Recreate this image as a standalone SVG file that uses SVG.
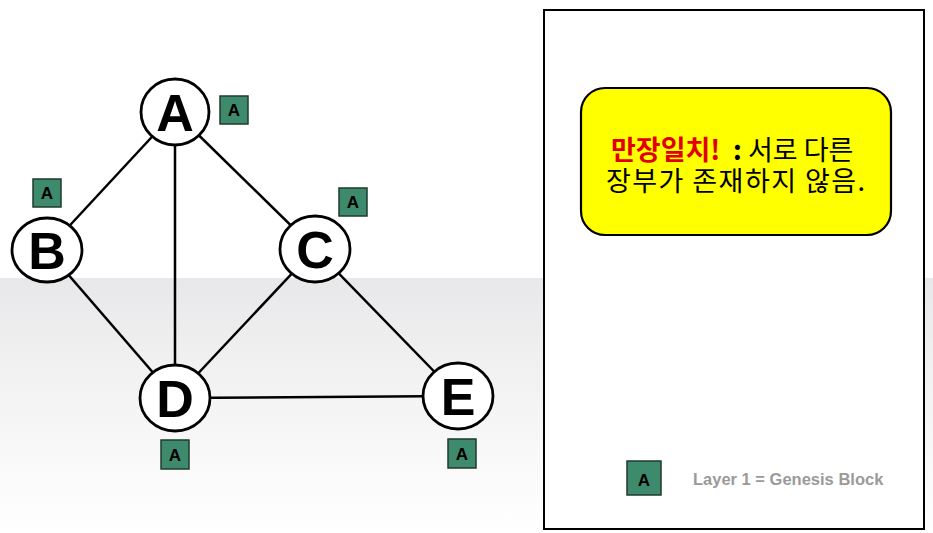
<svg xmlns="http://www.w3.org/2000/svg" width="933" height="533" viewBox="0 0 933 533">
<defs>
<linearGradient id="bg" x1="0" y1="0" x2="0" y2="1">
<stop offset="0" stop-color="#e8e8ea"/>
<stop offset="0.35" stop-color="#f1f1f2"/>
<stop offset="1" stop-color="#ffffff"/>
</linearGradient>
</defs>
<style>
.edge{stroke:#000;stroke-width:2.5;fill:none}
.node{fill:#fff;stroke:#000;stroke-width:2.8}
.nl{font-family:"Liberation Sans",Arial,sans-serif;font-weight:bold;font-size:52px;text-anchor:middle;fill:#000}
.blk{fill:#3d8a6d;stroke:#1f3a2e;stroke-width:1.5}
.bl{font-family:"Liberation Sans",Arial,sans-serif;font-weight:bold;font-size:17px;text-anchor:middle;fill:#000}
.kr{font-family:"Noto Sans CJK KR","Noto Sans",sans-serif;font-size:27px;fill:#000}
</style>
<rect x="0" y="0" width="933" height="533" fill="#fff"/>
<rect x="0" y="278" width="933" height="255" fill="url(#bg)"/>
<g id="connectors">
<line class="edge" x1="175" y1="112" x2="47" y2="250"/>
<line class="edge" x1="175" y1="112" x2="175" y2="398"/>
<line class="edge" x1="175" y1="112" x2="315" y2="249"/>
<line class="edge" x1="47" y1="250" x2="175" y2="398"/>
<line class="edge" x1="315" y1="249" x2="175" y2="398"/>
<line class="edge" x1="315" y1="249" x2="458" y2="396"/>
<line class="edge" x1="175" y1="398" x2="458" y2="396"/>
</g>
<g id="node-A">
<ellipse class="node" cx="175" cy="112" rx="34" ry="33"/>
<text class="nl" x="175" y="131">A</text>
<rect class="blk" x="220" y="96" width="28" height="28"/>
<text class="bl" x="234" y="116">A</text>
</g>
<g id="node-B">
<ellipse class="node" cx="47" cy="250" rx="35" ry="32"/>
<text class="nl" x="47" y="269">B</text>
<rect class="blk" x="33" y="179" width="28" height="28"/>
<text class="bl" x="47" y="199">A</text>
</g>
<g id="node-C">
<ellipse class="node" cx="315" cy="249" rx="35" ry="33"/>
<text class="nl" x="315" y="268">C</text>
<rect class="blk" x="339" y="188" width="28" height="28"/>
<text class="bl" x="353" y="208">A</text>
</g>
<g id="node-D">
<ellipse class="node" cx="175" cy="398" rx="35" ry="33"/>
<text class="nl" x="175" y="417">D</text>
<rect class="blk" x="161" y="440" width="28" height="29"/>
<text class="bl" x="175" y="461">A</text>
</g>
<g id="node-E">
<ellipse class="node" cx="458" cy="396" rx="35" ry="33"/>
<text class="nl" x="458" y="415">E</text>
<rect class="blk" x="448" y="439" width="28" height="29"/>
<text class="bl" x="462" y="460">A</text>
</g>
<g id="panel">
<rect x="544" y="10" width="380" height="519" fill="#fff" stroke="#000" stroke-width="2"/>
<rect x="581" y="88" width="310" height="147" rx="24" ry="24" fill="#ffff00" stroke="#000" stroke-width="2.2"/>
<text class="kr" x="611" y="160" font-weight="bold" style="fill:#e00000">만장일치!</text>
<text class="kr" x="733" y="160" font-weight="bold">:</text>
<text class="kr" x="748" y="160">서로 다른</text>
<text class="kr" x="606" y="191" textLength="259" lengthAdjust="spacing">장부가 존재하지 않음.</text>
<rect class="blk" x="627" y="461" width="34" height="34" stroke-width="2"/>
<text class="bl" x="644" y="486" font-size="22">A</text>
<text x="693" y="485" font-family="Liberation Sans,Arial,sans-serif" font-weight="bold" font-size="16.5" fill="#9a9a9a">Layer 1 = Genesis Block</text>
</g>
</svg>
